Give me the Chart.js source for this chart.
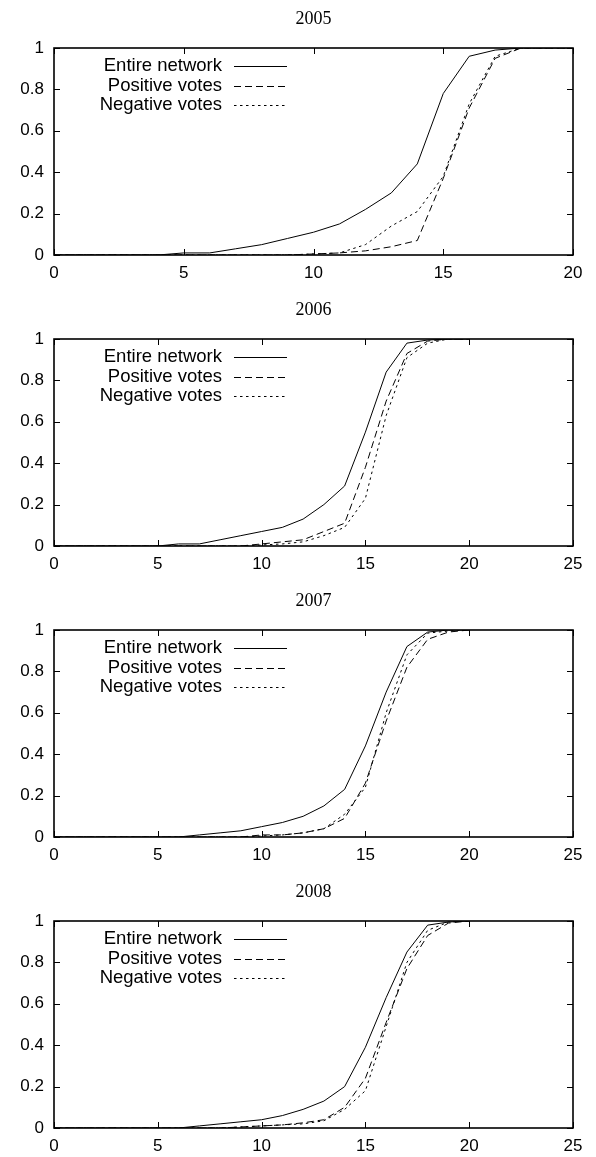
<!DOCTYPE html>
<html lang="en">
<head>
<meta charset="UTF-8">
<title>Vote timing distributions 2005-2008</title>
<script src="https://cdn.jsdelivr.net/npm/chart.js"></script>
<style>
  html, body { margin: 0; padding: 0; background: #fff; }
  #wrap { position: relative; width: 596px; height: 1157px; }
  #wrap canvas { position: absolute; left: 0; }
</style>
</head>
<body>
<div id="wrap">
  <canvas id="c2005" width="596" height="284" style="top:0px"></canvas>
  <canvas id="c2006" width="596" height="284" style="top:291px"></canvas>
  <canvas id="c2007" width="596" height="284" style="top:582px"></canvas>
  <canvas id="c2008" width="596" height="284" style="top:873px"></canvas>
</div>
<script>
// --- data (x = 0..20) ---
const xValues = [0, 1, 2, 3, 4, 5, 6, 7, 8, 9, 10, 11, 12, 13, 14, 15, 16, 17, 18, 19, 20];
const seriesNames = ['Entire network', 'Positive votes', 'Negative votes'];
const years = ['2005', '2006', '2007', '2008'];
const xMaxByYear = [20, 25, 25, 25];
const yTickValues = [0, 0.2, 0.4, 0.6, 0.8, 1];

const entire2005 = [0, 0, 0, 0, 0, 0.01, 0.01, 0.03, 0.05, 0.08, 0.11, 0.15, 0.22, 0.30, 0.44, 0.78, 0.96, 0.99, 1, 1, 1];
const positive2005 = [0, 0, 0, 0, 0, 0, 0, 0, 0, 0, 0.005, 0.01, 0.02, 0.04, 0.07, 0.37, 0.71, 0.95, 1, 1, 1];
const negative2005 = [0, 0, 0, 0, 0, 0, 0, 0, 0, 0, 0.005, 0.01, 0.05, 0.14, 0.21, 0.38, 0.73, 0.96, 1, 1, 1];

const entire2006 = [0, 0, 0, 0, 0, 0, 0.01, 0.01, 0.03, 0.05, 0.07, 0.09, 0.13, 0.20, 0.29, 0.55, 0.84, 0.98, 0.995, 1, 1];
const positive2006 = [0, 0, 0, 0, 0, 0, 0, 0, 0, 0, 0.01, 0.02, 0.03, 0.07, 0.11, 0.38, 0.70, 0.93, 0.99, 1, 1];
const negative2006 = [0, 0, 0, 0, 0, 0, 0, 0, 0, 0, 0.005, 0.01, 0.02, 0.05, 0.09, 0.23, 0.63, 0.91, 0.98, 1, 1];

const entire2007 = [0, 0, 0, 0, 0, 0, 0, 0.01, 0.02, 0.03, 0.05, 0.07, 0.10, 0.15, 0.23, 0.44, 0.70, 0.92, 0.99, 1, 1];
const positive2007 = [0, 0, 0, 0, 0, 0, 0, 0, 0, 0, 0.01, 0.01, 0.02, 0.04, 0.09, 0.26, 0.56, 0.82, 0.955, 0.99, 1];
const negative2007 = [0, 0, 0, 0, 0, 0, 0, 0, 0, 0, 0.005, 0.01, 0.02, 0.04, 0.11, 0.24, 0.60, 0.88, 0.985, 0.995, 1];

const entire2008 = [0, 0, 0, 0, 0, 0, 0, 0.01, 0.02, 0.03, 0.04, 0.06, 0.09, 0.13, 0.20, 0.39, 0.63, 0.85, 0.98, 0.995, 1];
const positive2008 = [0, 0, 0, 0, 0, 0, 0, 0, 0, 0.005, 0.01, 0.015, 0.025, 0.04, 0.10, 0.24, 0.51, 0.77, 0.93, 0.99, 1];
const negative2008 = [0, 0, 0, 0, 0, 0, 0, 0, 0, 0.005, 0.01, 0.015, 0.02, 0.035, 0.09, 0.18, 0.49, 0.80, 0.955, 0.995, 1];

const seriesByYear = [
  [entire2005, positive2005, negative2005],
  [entire2006, positive2006, negative2006],
  [entire2007, positive2007, negative2007],
  [entire2008, positive2008, negative2008]
];

// gnuplot-ish line types: solid, dashed, dotted
const dashes = [[], [7, 4], [2.5, 3.5]];

const SANS = '"Liberation Sans", Arial, Helvetica, sans-serif';
const SERIF = '"Liberation Serif", "Times New Roman", serif';

// box, inward ticks on all four sides, title and key drawn like gnuplot
const gnuFrame = {
  id: 'gnuFrame',
  afterDatasetsDraw(chart, args, opts) {
    const { ctx, chartArea: a, scales } = chart;
    const t = 6;
    ctx.save();
    ctx.strokeStyle = '#000';
    ctx.fillStyle = '#000';
    ctx.lineWidth = 1;
    ctx.setLineDash([]);
    ctx.beginPath();
    scales.x.ticks.forEach(tk => {
      const px = Math.round(scales.x.getPixelForValue(tk.value)) + 0.5;
      ctx.moveTo(px, a.bottom); ctx.lineTo(px, a.bottom - t);
      ctx.moveTo(px, a.top); ctx.lineTo(px, a.top + t);
    });
    scales.y.ticks.forEach(tk => {
      const py = Math.round(scales.y.getPixelForValue(tk.value)) + 0.5;
      ctx.moveTo(a.left, py); ctx.lineTo(a.left + t, py);
      ctx.moveTo(a.right, py); ctx.lineTo(a.right - t, py);
    });
    ctx.stroke();

    ctx.lineWidth = 1.6;
    ctx.strokeRect(a.left, a.top, a.right - a.left, a.bottom - a.top);

    // title
    ctx.font = '18px ' + SERIF;
    ctx.textAlign = 'center';
    ctx.textBaseline = 'middle';
    ctx.fillText(opts.title, (a.left + a.right) / 2, a.top - 29);

    // key
    ctx.font = '18.5px ' + SANS;
    ctx.textAlign = 'right';
    chart.data.datasets.forEach((ds, i) => {
      const y = a.top + 18 + i * 19.5;
      ctx.fillText(ds.label, a.left + 168, y);
      ctx.lineWidth = 1;
      ctx.setLineDash(ds.borderDash || []);
      ctx.beginPath();
      ctx.moveTo(a.left + 180, Math.round(y) + 0.5);
      ctx.lineTo(a.left + 233, Math.round(y) + 0.5);
      ctx.stroke();
    });
    ctx.restore();
  }
};

years.forEach((year, k) => {
  const datasets = seriesNames.map((name, i) => ({
    label: name,
    data: xValues.map((x, j) => ({ x: x, y: seriesByYear[k][i][j] })),
    borderColor: '#000',
    borderWidth: 1,
    borderDash: dashes[i],
    pointRadius: 0,
    tension: 0,
    fill: false
  }));

  new Chart(document.getElementById('c' + year), {
    type: 'line',
    data: { datasets: datasets },
    options: {
      responsive: false,
      animation: false,
      devicePixelRatio: 1,
      layout: { padding: { top: 48, right: 23, bottom: 0, left: 0 } },
      scales: {
        x: {
          type: 'linear',
          min: 0,
          max: xMaxByYear[k],
          grid: { display: false, drawTicks: false, tickLength: 0 },
          border: { display: false },
          ticks: {
            stepSize: 5,
            padding: 8,
            color: '#000',
            font: { family: SANS, size: 17 },
            maxRotation: 0
          },
          afterFit: s => { s.height = 29; }
        },
        y: {
          min: 0,
          max: 1,
          grid: { display: false, drawTicks: false, tickLength: 0 },
          border: { display: false },
          afterBuildTicks: s => { s.ticks = yTickValues.map(v => ({ value: v })); },
          ticks: {
            padding: 10,
            color: '#000',
            font: { family: SANS, size: 17 },
            callback: v => String(+v.toFixed(1))
          },
          afterFit: s => { s.width = 54; }
        }
      },
      plugins: {
        legend: { display: false },
        tooltip: { enabled: false },
        title: { display: false },
        gnuFrame: { title: year }
      }
    },
    plugins: [gnuFrame]
  });
});
</script>
</body>
</html>
